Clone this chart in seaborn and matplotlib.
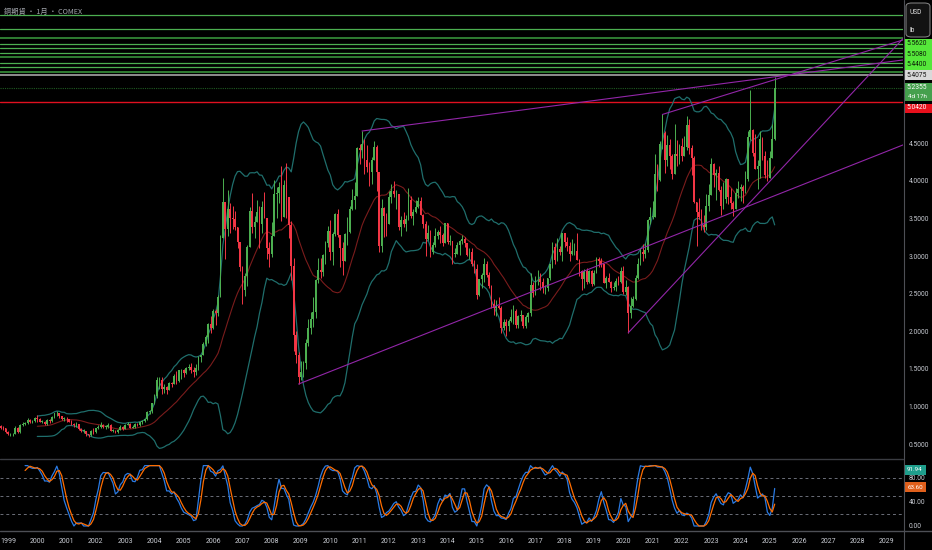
import numpy as np
import pandas as pd
import matplotlib
matplotlib.use("Agg")
import matplotlib.pyplot as plt
import seaborn as sns
from matplotlib.patches import Rectangle, FancyBboxPatch
from matplotlib.lines import Line2D

# ---------------- DATA (monthly COMEX copper, USD/lb) ----------------
start_month = "1997-01"
closes = [
    1.08, 1.10, 1.09, 1.11, 1.22, 1.17, 1.06, 0.98, 0.94, 0.90, 0.84, 0.77,  # 1997
    0.78, 0.76, 0.78, 0.79, 0.77, 0.75, 0.76, 0.74, 0.74, 0.72, 0.71, 0.66,  # 1998
    0.63, 0.63, 0.63, 0.72, 0.66, 0.76, 0.77, 0.78, 0.82, 0.80, 0.81, 0.85,  # 1999
    0.84, 0.80, 0.80, 0.77, 0.82, 0.81, 0.86, 0.91, 0.91, 0.87, 0.84, 0.84,  # 2000
    0.83, 0.80, 0.77, 0.75, 0.77, 0.70, 0.68, 0.68, 0.63, 0.62, 0.67, 0.66,  # 2001
    0.71, 0.73, 0.76, 0.73, 0.73, 0.76, 0.68, 0.68, 0.66, 0.69, 0.73, 0.70,  # 2002
    0.76, 0.77, 0.72, 0.73, 0.77, 0.75, 0.79, 0.81, 0.83, 0.93, 0.94, 1.05,  # 2003
    1.14, 1.36, 1.36, 1.23, 1.26, 1.22, 1.32, 1.30, 1.41, 1.34, 1.48, 1.49,  # 2004
    1.45, 1.51, 1.52, 1.48, 1.46, 1.51, 1.66, 1.68, 1.83, 1.92, 2.10, 2.04,  # 2005
    2.27, 2.24, 2.45, 3.24, 3.72, 3.36, 3.62, 3.50, 3.49, 3.39, 3.18, 2.86,  # 2006
    2.55, 2.73, 3.12, 3.60, 3.39, 3.45, 3.58, 3.42, 3.65, 3.51, 3.10, 3.03,  # 2007
    3.26, 3.82, 3.84, 3.92, 3.52, 3.94, 3.78, 3.41, 2.87, 1.95, 1.68, 1.40,  # 2008
    1.46, 1.58, 1.84, 2.05, 2.17, 2.26, 2.68, 2.82, 2.79, 3.01, 3.17, 3.33,  # 2009
    3.05, 3.29, 3.56, 3.28, 3.10, 2.93, 3.29, 3.32, 3.63, 3.75, 3.80, 4.44,  # 2010
    4.41, 4.49, 4.28, 4.18, 4.11, 4.28, 4.45, 4.11, 3.13, 3.64, 3.53, 3.43,  # 2011
    3.78, 3.86, 3.82, 3.83, 3.38, 3.48, 3.43, 3.49, 3.75, 3.53, 3.59, 3.65,  # 2012
    3.73, 3.55, 3.42, 3.22, 3.31, 3.06, 3.14, 3.26, 3.32, 3.28, 3.17, 3.44,  # 2013
    3.19, 3.20, 3.03, 3.03, 3.15, 3.20, 3.23, 3.17, 3.01, 3.06, 2.89, 2.83,  # 2014
    2.48, 2.69, 2.75, 2.90, 2.75, 2.60, 2.36, 2.31, 2.34, 2.31, 2.05, 2.13,  # 2015
    2.07, 2.14, 2.19, 2.27, 2.09, 2.20, 2.22, 2.07, 2.19, 2.24, 2.62, 2.51,  # 2016
    2.69, 2.70, 2.65, 2.57, 2.58, 2.71, 2.89, 3.12, 2.95, 3.09, 3.06, 3.30,  # 2017
    3.19, 3.13, 3.03, 3.07, 3.07, 2.95, 2.80, 2.69, 2.80, 2.65, 2.80, 2.63,  # 2018
    2.78, 2.96, 2.94, 2.90, 2.64, 2.71, 2.66, 2.57, 2.59, 2.67, 2.65, 2.80,  # 2019
    2.52, 2.59, 2.24, 2.34, 2.43, 2.71, 2.90, 3.06, 3.03, 3.08, 3.48, 3.52,  # 2020
    3.52, 4.09, 4.01, 4.49, 4.63, 4.27, 4.48, 4.33, 4.09, 4.36, 4.33, 4.46,  # 2021
    4.33, 4.45, 4.74, 4.43, 4.30, 3.72, 3.58, 3.52, 3.41, 3.38, 3.66, 3.81,  # 2022
    4.22, 4.08, 4.10, 3.88, 3.67, 3.76, 4.02, 3.79, 3.71, 3.63, 3.84, 3.89,  # 2023
    3.91, 3.86, 4.02, 4.58, 4.68, 4.37, 4.16, 4.19, 4.55, 4.33, 4.08, 4.03,  # 2024
    4.30, 4.55, 5.2355,                                                      # 2025
]
highs = [
    1.10, 1.12, 1.13, 1.13, 1.24, 1.24, 1.18, 1.08, 1.00, 0.96, 0.91, 0.86,
    0.80, 0.80, 0.80, 0.81, 0.80, 0.78, 0.77, 0.77, 0.77, 0.76, 0.74, 0.72,
    0.68, 0.65, 0.65, 0.74, 0.73, 0.77, 0.79, 0.80, 0.85, 0.83, 0.82, 0.86,
    0.89, 0.85, 0.82, 0.81, 0.84, 0.84, 0.87, 0.91, 0.94, 0.92, 0.88, 0.86,
    0.86, 0.83, 0.82, 0.78, 0.79, 0.76, 0.72, 0.70, 0.68, 0.64, 0.69, 0.71,
    0.72, 0.75, 0.80, 0.77, 0.76, 0.78, 0.77, 0.70, 0.69, 0.70, 0.76, 0.74,
    0.77, 0.80, 0.78, 0.75, 0.78, 0.78, 0.80, 0.82, 0.84, 0.94, 0.96, 1.05,
    1.17, 1.39, 1.40, 1.40, 1.30, 1.28, 1.33, 1.33, 1.43, 1.47, 1.49, 1.50,
    1.50, 1.53, 1.56, 1.58, 1.52, 1.57, 1.67, 1.69, 1.86, 1.95, 2.11, 2.20,
    2.30, 2.29, 2.48, 3.28, 4.04, 3.70, 3.88, 3.70, 3.66, 3.60, 3.38, 3.18,
    2.87, 2.78, 3.14, 3.65, 3.84, 3.53, 3.74, 3.66, 3.73, 3.85, 3.44, 3.18,
    3.45, 4.01, 3.92, 3.98, 4.20, 4.01, 4.24, 3.60, 3.46, 2.97, 2.00, 1.72,
    1.60, 1.60, 1.90, 2.16, 2.26, 2.45, 2.69, 2.98, 2.98, 3.03, 3.20, 3.40,
    3.48, 3.32, 3.57, 3.63, 3.27, 3.18, 3.31, 3.52, 3.66, 3.89, 3.98, 4.45,
    4.49, 4.66, 4.55, 4.47, 4.25, 4.32, 4.53, 4.48, 4.12, 3.76, 3.65, 3.57,
    3.86, 3.95, 3.99, 3.88, 3.83, 3.53, 3.58, 3.54, 3.90, 3.80, 3.63, 3.75,
    3.78, 3.79, 3.56, 3.46, 3.41, 3.34, 3.18, 3.37, 3.35, 3.40, 3.30, 3.44,
    3.44, 3.28, 3.20, 3.10, 3.19, 3.21, 3.28, 3.25, 3.16, 3.10, 3.10, 2.95,
    2.90, 2.70, 2.78, 2.97, 2.94, 2.79, 2.62, 2.43, 2.42, 2.45, 2.33, 2.16,
    2.17, 2.17, 2.30, 2.35, 2.29, 2.22, 2.28, 2.22, 2.22, 2.25, 2.77, 2.66,
    2.74, 2.82, 2.78, 2.71, 2.61, 2.71, 2.89, 3.18, 3.17, 3.24, 3.13, 3.30,
    3.29, 3.25, 3.19, 3.22, 3.17, 3.30, 2.96, 2.81, 2.83, 2.84, 2.81, 2.82,
    2.81, 2.99, 2.99, 2.98, 2.90, 2.74, 2.77, 2.67, 2.66, 2.71, 2.73, 2.86,
    2.87, 2.68, 2.60, 2.45, 2.47, 2.75, 2.97, 3.11, 3.16, 3.17, 3.49, 3.65,
    3.73, 4.35, 4.22, 4.53, 4.88, 4.66, 4.61, 4.56, 4.36, 4.75, 4.54, 4.49,
    4.57, 4.59, 4.86, 4.82, 4.47, 4.33, 3.65, 3.77, 3.62, 3.55, 3.82, 3.95,
    4.30, 4.24, 4.15, 4.20, 3.93, 3.98, 4.03, 4.00, 3.90, 3.73, 3.90, 4.00,
    3.96, 3.94, 4.13, 4.66, 5.20, 4.69, 4.62, 4.28, 4.66, 4.58, 4.40, 4.27,
    4.40, 4.75, 5.38,
]
lows = [
    0.98, 1.05, 1.06, 1.04, 1.10, 1.15, 1.05, 0.95, 0.91, 0.88, 0.82, 0.76,
    0.75, 0.74, 0.75, 0.77, 0.75, 0.73, 0.73, 0.72, 0.72, 0.70, 0.69, 0.65,
    0.62, 0.61, 0.61, 0.63, 0.65, 0.65, 0.74, 0.75, 0.77, 0.78, 0.78, 0.79,
    0.80, 0.79, 0.78, 0.76, 0.76, 0.78, 0.80, 0.85, 0.88, 0.85, 0.82, 0.81,
    0.79, 0.79, 0.76, 0.73, 0.73, 0.69, 0.66, 0.65, 0.61, 0.60, 0.61, 0.64,
    0.65, 0.70, 0.72, 0.72, 0.70, 0.72, 0.68, 0.66, 0.65, 0.65, 0.69, 0.69,
    0.70, 0.75, 0.72, 0.71, 0.72, 0.74, 0.74, 0.77, 0.80, 0.82, 0.90, 0.92,
    1.04, 1.12, 1.24, 1.17, 1.18, 1.17, 1.22, 1.26, 1.30, 1.30, 1.33, 1.37,
    1.39, 1.43, 1.48, 1.44, 1.40, 1.42, 1.49, 1.59, 1.68, 1.80, 1.85, 1.98,
    2.03, 2.08, 2.20, 2.45, 3.30, 2.96, 3.26, 3.30, 3.36, 3.34, 3.10, 2.80,
    2.36, 2.47, 2.60, 3.12, 3.30, 3.24, 3.46, 3.10, 3.30, 3.50, 2.96, 2.85,
    2.99, 3.29, 3.51, 3.70, 3.46, 3.52, 3.50, 3.24, 2.68, 1.74, 1.58, 1.30,
    1.36, 1.40, 1.50, 1.81, 1.97, 2.06, 2.18, 2.64, 2.71, 2.74, 2.90, 3.12,
    2.95, 2.88, 3.26, 3.25, 2.85, 2.75, 2.94, 3.15, 3.30, 3.61, 3.62, 3.80,
    4.22, 4.30, 4.09, 4.12, 3.93, 3.96, 4.28, 3.87, 3.05, 3.05, 3.25, 3.27,
    3.43, 3.70, 3.78, 3.62, 3.34, 3.26, 3.38, 3.33, 3.48, 3.50, 3.41, 3.57,
    3.64, 3.54, 3.37, 3.00, 3.21, 2.99, 3.03, 3.12, 3.23, 3.17, 3.13, 3.17,
    3.16, 3.15, 2.89, 2.99, 3.03, 3.02, 3.16, 3.12, 3.00, 2.96, 2.87, 2.77,
    2.43, 2.47, 2.58, 2.66, 2.72, 2.57, 2.31, 2.22, 2.21, 2.29, 1.98, 2.02,
    1.94, 2.01, 2.13, 2.10, 2.04, 2.05, 2.14, 2.05, 2.05, 2.13, 2.21, 2.45,
    2.48, 2.62, 2.55, 2.51, 2.49, 2.53, 2.68, 2.84, 2.89, 2.93, 3.02, 2.94,
    3.12, 3.07, 2.93, 3.02, 3.01, 2.95, 2.73, 2.55, 2.58, 2.63, 2.64, 2.60,
    2.61, 2.77, 2.85, 2.86, 2.64, 2.57, 2.65, 2.52, 2.55, 2.54, 2.62, 2.64,
    2.49, 2.48, 1.98, 2.18, 2.32, 2.42, 2.70, 2.88, 2.94, 2.97, 3.06, 3.42,
    3.49, 3.52, 3.87, 3.99, 4.42, 4.10, 4.19, 4.15, 4.02, 4.23, 4.20, 4.22,
    4.26, 4.36, 4.41, 4.36, 4.07, 3.70, 3.13, 3.49, 3.34, 3.32, 3.34, 3.60,
    3.83, 3.91, 3.75, 3.87, 3.55, 3.62, 3.70, 3.69, 3.63, 3.53, 3.64, 3.77,
    3.73, 3.71, 3.84, 4.00, 4.54, 4.33, 4.15, 3.89, 4.04, 4.28, 4.04, 4.00,
    4.04, 4.43, 4.54,
]

# horizontal levels drawn on the chart
green_levels = [6.197, 6.011, 5.892, 5.816, 5.759, 5.700, 5.647, 5.562, 5.508, 5.440]
gray_level = 5.4075
last_price = 5.2355
red_level = 5.042
level_labels = ["5.5620", "5.5080", "5.4400"]
gray_label = "5.4075"
last_label = "5.2355"
countdown = "4d 17h"
red_label = "5.0420"

# trend lines: start (year, price) -> end (year, price)
trend_t0 = [2008.917, 2011.083, 2021.333, 2020.167]
trend_p0 = [1.30, 4.66, 4.88, 1.98]
trend_t1 = [2029.55, 2029.55, 2029.55, 2029.55]
trend_p1 = [4.476, 5.604, 5.870, 5.889]

stoch_readout = ["91.94", "63.60"]
stoch_readout_vals = [91.94, 63.60]
year_ticks = list(range(1999, 2030))
price_ticks = [0.5, 1.0, 1.5, 2.0, 2.5, 3.0, 3.5, 4.0, 4.5]
stoch_ticks = [0, 40, 80]
stoch_guides = [20, 50, 80]
title = "銅期貨 · 1月 · COMEX"
bb_start = 2000.0

# ---------------- derived series ----------------
n = len(closes)
dates = pd.date_range(start_month, periods=n, freq="MS")
t = dates.year + (dates.month - 1) / 12.0
df = pd.DataFrame({"t": t, "close": closes, "high": highs, "low": lows})
df["open"] = df["close"].shift(1).fillna(df["close"])
df["high"] = df[["high", "open", "close"]].max(axis=1)
df["low"] = df[["low", "open", "close"]].min(axis=1)

basis = df["close"].rolling(20).mean()
dev = df["close"].rolling(20).std(ddof=0)
df["basis"] = basis
df["upper"] = basis + 2 * dev
df["lower"] = basis - 2 * dev

delta = df["close"].diff()
gain = delta.clip(lower=0)
loss = (-delta).clip(lower=0)
ag = gain.ewm(alpha=1 / 14, adjust=False, min_periods=14).mean()
al = loss.ewm(alpha=1 / 14, adjust=False, min_periods=14).mean()
rsi = 100 - 100 / (1 + ag / al)
rmin = rsi.rolling(14).min()
rmax = rsi.rolling(14).max()
stoch = 100 * (rsi - rmin) / (rmax - rmin)
df["k"] = stoch.rolling(3).mean()
df["d"] = df["k"].rolling(3).mean()

# ---------------- styling ----------------
sns.set_theme(style="dark")
plt.rcParams["font.family"] = ["Roboto", "DejaVu Sans"]
plt.rcParams["axes.facecolor"] = "black"
plt.rcParams["figure.facecolor"] = "black"

W, H = 932, 550
fig = plt.figure(figsize=(W / 100, H / 100), dpi=100, facecolor="black")


def fr(x0, y0, x1, y1):
    return [x0 / W, 1 - y1 / H, (x1 - x0) / W, (y1 - y0) / H]


ax = fig.add_axes(fr(0, 0, 903, 457))
ax2 = fig.add_axes(fr(0, 460, 903, 531), sharex=ax)
for a in (ax, ax2):
    a.set_facecolor("black")
    for s in a.spines.values():
        s.set_visible(False)
    a.grid(False)

XL = (1998.727, 2029.546)
ax.set_xlim(*XL)
ax.set_ylim(0.331, 6.400)
ax2.set_ylim(-8.3, 109.3)

txtc = "#c9ccd3"
ax.yaxis.tick_right()
ax.set_yticks(price_ticks)
ax.set_yticklabels([f"{v:.4f}" for v in price_ticks])
ax.tick_params(axis="y", length=0, pad=4, labelsize=4.8, colors=txtc)
ax.tick_params(axis="x", length=0, labelbottom=False)

ax2.yaxis.tick_right()
ax2.set_yticks(stoch_ticks)
ax2.set_yticklabels([f"{v:.2f}" for v in stoch_ticks])
ax2.tick_params(axis="y", length=0, pad=4, labelsize=4.8, colors=txtc)
ax2.set_xticks(year_ticks)
ax2.set_xticklabels([str(y) for y in year_ticks])
ax2.tick_params(axis="x", length=0, pad=5, labelsize=5, colors=txtc)

# ---------------- horizontal levels ----------------
thick = {5.892, 5.647, 5.440}
for lv in green_levels:
    if lv in thick:
        ax.axhline(lv, color="#2f7d32", lw=1.4, zorder=1)
    else:
        ax.axhline(lv, color="#4caf50", lw=0.9, zorder=1)
ax.axhline(gray_level, color="#a6a6a6", lw=1.2, zorder=1)
ax.axhline(last_price, color="#1f5a22", lw=0.8, ls=(0, (1, 1)), zorder=1)
ax.axhline(red_level, color="#e01020", lw=1.0, zorder=1)

# ---------------- Bollinger bands ----------------
bb = df[df["t"] >= bb_start - 1e-6]
sns.lineplot(x=bb["t"], y=bb["upper"], ax=ax, color="#1f6e6c", lw=0.9, zorder=2)
sns.lineplot(x=bb["t"], y=bb["lower"], ax=ax, color="#1f6e6c", lw=0.9, zorder=2)
sns.lineplot(x=bb["t"], y=bb["basis"], ax=ax, color="#7a1c1c", lw=0.8, zorder=2)

# ---------------- candles ----------------
up = df["close"] >= df["open"]
cols = np.where(up, "#4caf50", "#f23645")
ax.vlines(df["t"], df["low"], df["high"], colors=cols, lw=0.7, zorder=3)
body_h = (df["close"] - df["open"]).abs().clip(lower=0.008)
ax.bar(df["t"], body_h, bottom=df[["open", "close"]].min(axis=1),
       width=0.058, color=cols, linewidth=0, zorder=4)

# ---------------- trend lines ----------------
for a0, p0, a1, p1 in zip(trend_t0, trend_p0, trend_t1, trend_p1):
    ax.plot([a0, a1], [p0, p1], color="#9226a8", lw=0.8, zorder=5)

# ---------------- Stoch RSI ----------------
for g in stoch_guides:
    ax2.axhline(g, color="#6b6e78", lw=0.7, ls=(0, (3, 3)), zorder=1)
st = df.dropna(subset=["d"])
sns.lineplot(x=st["t"], y=st["k"], ax=ax2, color="#2a7be4", lw=0.9, zorder=3)
sns.lineplot(x=st["t"], y=st["d"], ax=ax2, color="#ff6d00", lw=0.9, zorder=4)
ax.set_xlabel("")
ax.set_ylabel("")
ax2.set_xlabel("")
ax2.set_ylabel("")
ax.set_xlim(*XL)

# ---------------- frame lines ----------------
fig.add_artist(Line2D([903.5 / W] * 2, [0, 1], color="#4d4f55", lw=0.8))
fig.add_artist(Line2D([0, 903 / W], [1 - 458.5 / H] * 2, color="#3a3c42", lw=1.0))
fig.add_artist(Line2D([0, 1], [1 - 531 / H] * 2, color="#4d4f55", lw=1.0))


def box(x0, y0, x1, y1, color):
    fig.add_artist(Rectangle((x0 / W, 1 - y1 / H), (x1 - x0) / W, (y1 - y0) / H,
                             facecolor=color, edgecolor="none", transform=fig.transFigure))


def ftxt(x, y, s, color, size=4.8, ha="center", **kw):
    fig.text(x / W, 1 - y / H, s, color=color, fontsize=size, ha=ha, va="center", **kw)


# price labels on right axis
box(904, 39, 932, 69.5, "#55e83a")
for s, yy in zip(level_labels, [43.7, 54.0, 64.5]):
    ftxt(917, yy, s, "#0b1a08")
box(904, 70.5, 932, 80, "#d9d9d9")
ftxt(917, 75.2, gray_label, "#111111")
box(904, 82.5, 932, 100.5, "#45a04d")
ftxt(917, 87.3, last_label, "white")
ftxt(917, 96.8, countdown, "white", size=4.5)
box(904, 103.5, 932, 112.5, "#e8101c")
ftxt(917, 108, red_label, "white")

# stoch readouts
ypix = [526 - v * 0.604 for v in stoch_readout_vals]
box(904, ypix[0] - 5.5, 926, ypix[0] + 4.5, "#1f9e8c")
ftxt(915, ypix[0] - 0.5, stoch_readout[0], "white", size=4.5)
box(904, ypix[1] - 5.5, 926, ypix[1] + 4.5, "#e0601c")
ftxt(915, ypix[1] - 0.5, stoch_readout[1], "white", size=4.5)

# unit box
fig.add_artist(FancyBboxPatch((906 / W, 1 - 37 / H), 24 / W, 34 / H,
                              boxstyle="round,pad=0,rounding_size=0.006",
                              facecolor="#121212", edgecolor="#8a8a8a", lw=0.7,
                              transform=fig.transFigure))
ftxt(910, 12, "USD", "#e0e0e0", size=4.8, ha="left")
ftxt(910, 30, "lb", "#e0e0e0", size=4.8, ha="left")

# title
fig.text(4 / W, 1 - 12 / H, title, color="#a3a6ad", fontsize=5.2, ha="left", va="center",
         family=["Noto Sans CJK TC", "DejaVu Sans"])

fig.savefig("out.png", dpi=100, facecolor="black")
